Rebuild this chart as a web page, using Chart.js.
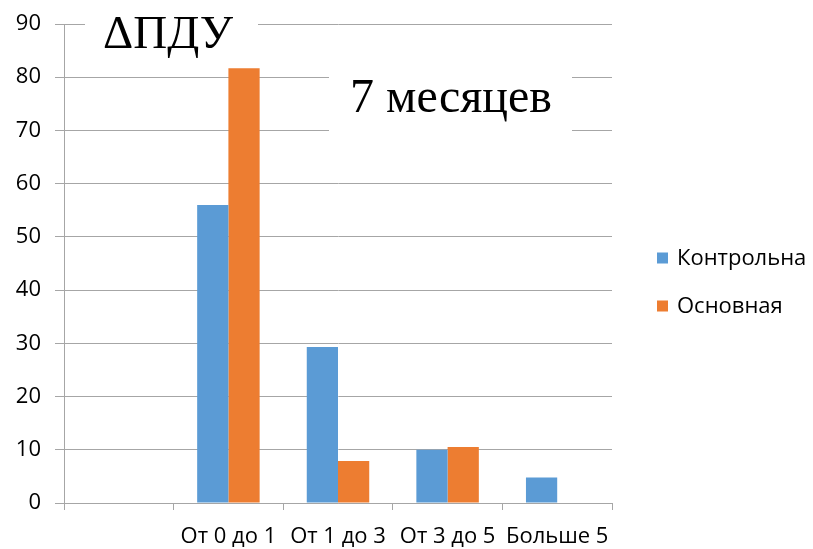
<!DOCTYPE html>
<html>
<head>
<meta charset="utf-8">
<script src="https://cdn.jsdelivr.net/npm/chart.js@4"></script>
<style>
  html, body { margin: 0; padding: 0; background: #fff; }
  #wrap { width: 813px; height: 549px; }
</style>
</head>
<body>
<div id="wrap"><canvas id="chartBar"></canvas></div>
<script>
const categories = ["", "От 0 до 1", "От 1 до 3", "От 3 до 5", "Больше 5"];
const controlValues = [null, 56, 29.3, 10, 4.8];
const mainValues = [null, 81.7, 7.9, 10.5, null];
const seriesNames = ["Контрольна", "Основная"];
const seriesColors = ["#5B9BD5", "#ED7D31"];
const yTicks = [0, 10, 20, 30, 40, 50, 60, 70, 80, 90];

const FONT = "'Open Sans', 'Liberation Sans', sans-serif";
const gridColor = "#a6a6a6";

// text boxes + legend, drawn over the plot like in the original sheet
const overlay = {
  id: "overlay",
  afterDraw(chart) {
    const ctx = chart.ctx;
    ctx.save();
    ctx.fillStyle = "#fff";
    ctx.fillRect(85, 0, 173, 55);
    ctx.fillRect(329, 60, 243, 80);
    ctx.fillStyle = "#000";
    ctx.font = "47px 'Liberation Serif', 'DejaVu Serif', serif";
    ctx.textBaseline = "alphabetic";
    ctx.textAlign = "left";
    ctx.fillText("ΔПДУ", 103, 48);
    ctx.font = "48px 'Liberation Serif', 'DejaVu Serif', serif";
    ctx.fillText("7 месяцев", 350, 112);

    ctx.font = "22px " + FONT;
    ctx.textBaseline = "middle";
    seriesNames.forEach((name, i) => {
      const y = 258 + i * 48;
      ctx.fillStyle = seriesColors[i];
      ctx.fillRect(657, y - 5.5, 11, 11);
      ctx.fillStyle = "#000";
      ctx.fillText(name, 677, y + 1);
    });
    ctx.restore();
  },
};

new Chart(document.getElementById("chartBar"), {
  type: "bar",
  data: {
    labels: categories,
    datasets: seriesNames.map((name, i) => ({
      label: name,
      data: i === 0 ? controlValues : mainValues,
      backgroundColor: seriesColors[i],
      barPercentage: 1,
      categoryPercentage: 0.57,
    })),
  },
  options: {
    responsive: true,
    maintainAspectRatio: false,
    animation: false,
    layout: {
      padding: { top: 24, right: 201, left: 0, bottom: 0 },
    },
    scales: {
      x: {
        afterFit: (scale) => { scale.height = 46; },
        grid: {
          drawOnChartArea: false,
          drawTicks: true,
          tickLength: 7,
          color: gridColor,
        },
        border: { color: gridColor },
        ticks: {
          padding: 14,
          maxRotation: 0,
          autoSkip: false,
          color: "#000",
          font: { size: 22, family: FONT },
        },
      },
      y: {
        min: 0,
        max: 90,
        afterFit: (scale) => {
          scale.width = 64;
          scale.paddingTop = 0;
          scale.paddingBottom = 0;
        },
        afterBuildTicks: (scale) => {
          scale.ticks = yTicks.map((v) => ({ value: v }));
        },
        grid: {
          color: gridColor,
          tickLength: 9,
        },
        border: { color: gridColor },
        ticks: {
          padding: 14,
          color: "#000",
          font: { size: 22, family: FONT, lineHeight: 1 },
        },
      },
    },
    plugins: {
      legend: { display: false },
      tooltip: { enabled: false },
    },
  },
  plugins: [overlay],
});
</script>
</body>
</html>
